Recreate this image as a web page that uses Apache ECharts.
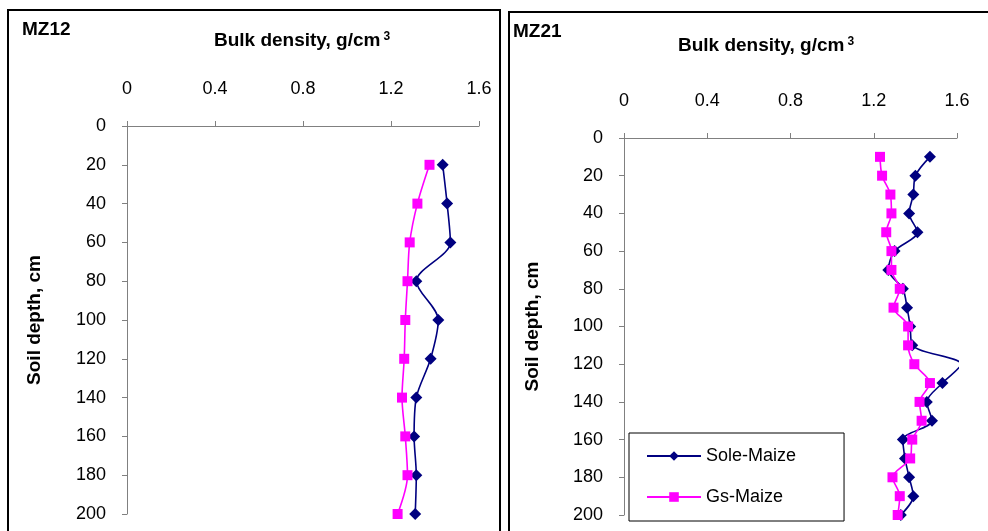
<!DOCTYPE html>
<html>
<head>
<meta charset="utf-8">
<script src="https://cdn.jsdelivr.net/npm/echarts@6/dist/echarts.min.js"></script>
<style>
html,body{margin:0;padding:0;background:#fff;}
#chart{width:988px;height:531px;}
</style>
</head>
<body>
<div id="chart"></div>
<script>
// ---- Data ----
const xTicks = [0, 0.4, 0.8, 1.2, 1.6];
const seriesNames = ['Sole-Maize', 'Gs-Maize'];

const mz12Depth = [20, 40, 60, 80, 100, 120, 140, 160, 180, 200];
const mz12Sole  = [1.435, 1.455, 1.47, 1.315, 1.415, 1.38, 1.315, 1.305, 1.315, 1.31];
const mz12Gs    = [1.375, 1.32, 1.285, 1.275, 1.265, 1.26, 1.25, 1.265, 1.275, 1.23];

const mz21Depth = [10, 20, 30, 40, 50, 60, 70, 80, 90, 100, 110, 120, 130, 140, 150, 160, 170, 180, 190, 200];
const mz21Sole  = [1.47, 1.40, 1.39, 1.37, 1.41, 1.30, 1.27, 1.34, 1.36, 1.375, 1.385, 1.62, 1.53, 1.455, 1.48, 1.34, 1.35, 1.37, 1.39, 1.33];
const mz21Gs    = [1.23, 1.24, 1.28, 1.285, 1.26, 1.285, 1.285, 1.325, 1.295, 1.365, 1.365, 1.395, 1.47, 1.42, 1.43, 1.385, 1.375, 1.29, 1.325, 1.315];

// ---- Chart ----
const FONT = "'Liberation Sans', Arial, sans-serif";
const AX = '#808080';
const xMin = xTicks[0], xMax = xTicks[xTicks.length - 1];
const xInt = xTicks[1] - xTicks[0];

function pts(xs, ys) {
  return xs.map((v, i) => {
    const item = { value: [v, ys[i]] };
    if (v > xMax) item.symbol = 'none';
    return item;
  });
}

function xAxisCfg(gi) {
  return {
    gridIndex: gi, type: 'value', position: 'top',
    min: xMin, max: xMax, interval: xInt,
    axisLine: { show: true, lineStyle: { color: AX, width: 1 } },
    axisTick: { show: true, length: 5, lineStyle: { color: AX } },
    splitLine: { show: false },
    axisLabel: { color: '#000', fontFamily: FONT, fontSize: 18, margin: 28 }
  };
}
function yAxisCfg(gi, gap) {
  return {
    gridIndex: gi, type: 'value', inverse: true,
    min: 0, max: 200, interval: 20,
    name: 'Soil depth, cm', nameLocation: 'middle', nameRotate: 90, nameGap: gap,
    nameTextStyle: { color: '#000', fontFamily: FONT, fontSize: 19, fontWeight: 'bold' },
    axisLine: { show: true, onZero: false, lineStyle: { color: AX, width: 1 } },
    axisTick: { show: true, length: 5, lineStyle: { color: AX } },
    splitLine: { show: false },
    axisLabel: { color: '#000', fontFamily: FONT, fontSize: 18, margin: 21 }
  };
}
function soleSeries(x, y, xi) {
  return {
    name: seriesNames[0], type: 'line', xAxisIndex: xi, yAxisIndex: xi,
    data: pts(x, y), smooth: 0.3, clip: false,
    symbol: 'diamond', symbolSize: [12, 12],
    lineStyle: { color: '#000080', width: 1.6 },
    itemStyle: { color: '#000080' }, z: 3
  };
}
function gsSeries(x, y, xi) {
  return {
    name: seriesNames[1], type: 'line', xAxisIndex: xi, yAxisIndex: xi,
    data: pts(x, y), smooth: 0.3, clip: false,
    symbol: 'rect', symbolSize: [10, 10],
    lineStyle: { color: '#FF00FF', width: 1.6 },
    itemStyle: { color: '#FF00FF' }, z: 4
  };
}

const titleRich = {
  a: { font: "bold 19px " + FONT, fill: '#000' },
  s: { font: "bold 12px " + FONT, fill: '#000', verticalAlign: 'top', padding: [0, 0, 8, 3] }
};

const chart = echarts.init(document.getElementById('chart'), null, { renderer: 'canvas' });
chart.setOption({
  animation: false,
  backgroundColor: '#fff',
  textStyle: { fontFamily: FONT },
  grid: [
    { left: 127, top: 126, width: 352, height: 388 },
    { left: 624, top: 138, width: 333, height: 377 }
  ],
  xAxis: [xAxisCfg(0), xAxisCfg(1)],
  yAxis: [yAxisCfg(0, 83), yAxisCfg(1, 82)],
  legend: {
    data: seriesNames,
    left: 629, top: 433, orient: 'vertical',
    padding: [14, 48, 15, 17], itemGap: 23,
    itemWidth: 54, itemHeight: 12,
    backgroundColor: '#fff', borderColor: '#000', borderWidth: 1,
    textStyle: { color: '#000', fontFamily: FONT, fontSize: 18 }
  },
  graphic: [
    { type: 'rect', shape: { x: 8, y: 10, width: 492, height: 540 }, style: { fill: 'none', stroke: '#000', lineWidth: 2 }, z: 100 },
    { type: 'rect', shape: { x: 509, y: 12, width: 500, height: 540 }, style: { fill: 'none', stroke: '#000', lineWidth: 2 }, z: 100 },
    { type: 'text', x: 22, y: 30, style: { text: 'MZ12', font: "bold 19px " + FONT, fill: '#000', verticalAlign: 'middle' } },
    { type: 'text', x: 513, y: 32, style: { text: 'MZ21', font: "bold 19px " + FONT, fill: '#000', verticalAlign: 'middle' } },
    { type: 'text', x: 302, y: 41, style: { text: '{a|Bulk density, g/cm}{s|3}', align: 'center', verticalAlign: 'middle', rich: titleRich } },
    { type: 'text', x: 766, y: 46, style: { text: '{a|Bulk density, g/cm}{s|3}', align: 'center', verticalAlign: 'middle', rich: titleRich } }
  ],
  series: [
    soleSeries(mz12Sole, mz12Depth, 0),
    gsSeries(mz12Gs, mz12Depth, 0),
    soleSeries(mz21Sole, mz21Depth, 1),
    gsSeries(mz21Gs, mz21Depth, 1)
  ]
});
</script>
</body>
</html>
